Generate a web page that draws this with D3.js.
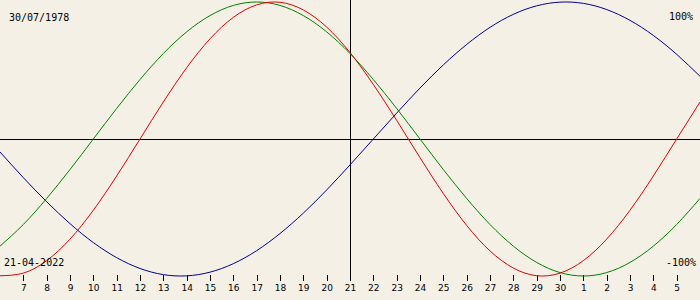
<!DOCTYPE html>
<html>
<head>
<meta charset="utf-8">
<script src="https://cdn.jsdelivr.net/npm/d3@7"></script>
<style>
  html, body { margin: 0; padding: 0; background: #f4f0e5; }
  svg { display: block; }
  text { font-family: "DejaVu Sans Mono", monospace; fill: #000; }
</style>
</head>
<body>
<svg id="chart" width="700" height="300"></svg>
<script>
// days shown, 6 April .. 6 May (first and last are off the edge ticks)
const days = [6, 7, 8, 9, 10, 11, 12, 13, 14, 15, 16, 17, 18, 19, 20, 21, 22, 23, 24, 25, 26, 27, 28, 29, 30, 1, 2, 3, 4, 5, 6];
const todayIndex = 15;

// cycle values, one per day
const physical = [-0.998, -0.979, -0.888, -0.731, -0.520, -0.270, 0, 0.270, 0.520, 0.731, 0.888, 0.979, 0.998, 0.942, 0.817, 0.631,
  0.398, 0.136, -0.136, -0.398, -0.631, -0.817, -0.942, -0.998, -0.979, -0.888, -0.731, -0.520, -0.270, 0, 0.270];
const emotional = [-0.782, -0.624, -0.434, -0.223, 0, 0.223, 0.434, 0.624, 0.782, 0.901, 0.975, 1, 0.975, 0.901, 0.782, 0.624,
  0.434, 0.223, 0, -0.223, -0.434, -0.624, -0.782, -0.901, -0.975, -1, -0.975, -0.901, -0.782, -0.624, -0.434];
const intellectual = [-0.095, -0.282, -0.458, -0.618, -0.756, -0.866, -0.945, -0.990, -0.999, -0.972, -0.910, -0.815, -0.690, -0.541, -0.372, -0.189,
  0, 0.189, 0.372, 0.541, 0.690, 0.815, 0.910, 0.972, 0.999, 0.990, 0.945, 0.866, 0.756, 0.618, 0.458];

const birthDate = "30/07/1978";
const currentDate = "21-04-2022";

const svg = d3.select("#chart");
const width = +svg.attr("width");
const height = +svg.attr("height");

const x = d3.scaleLinear().domain([0, days.length - 1]).range([0, width]);
const y = d3.scaleLinear().domain([-1, 1]).range([276, 2]);

// axes lines
const zeroY = Math.round(y(0)) + 0.5;
svg.append("line")
    .attr("x1", 0).attr("x2", width)
    .attr("y1", zeroY).attr("y2", zeroY)
    .attr("stroke", "#000");

const todayX = Math.round(x(todayIndex)) + 0.5;
svg.append("line")
    .attr("x1", todayX).attr("x2", todayX)
    .attr("y1", 0).attr("y2", 281)
    .attr("stroke", "#000");

// day ticks
const tickIdx = d3.range(1, days.length - 1).filter(i => i !== todayIndex);
svg.selectAll("line.tick")
    .data(tickIdx)
    .enter().append("line")
    .attr("class", "tick")
    .attr("x1", i => Math.round(x(i)) + 0.5)
    .attr("x2", i => Math.round(x(i)) + 0.5)
    .attr("y1", 275).attr("y2", 281)
    .attr("stroke", "#000");

svg.selectAll("text.day")
    .data(d3.range(1, days.length - 1))
    .enter().append("text")
    .attr("class", "day")
    .attr("x", i => x(i) + 0.5)
    .attr("y", 291)
    .attr("text-anchor", "middle")
    .style("font-family", "'DejaVu Sans', sans-serif")
    .style("font-size", "9px")
    .text(i => days[i]);

// curves
const line = d3.line()
    .x((d, i) => x(i))
    .y(d => y(d))
    .curve(d3.curveNatural);

const series = [
    { values: intellectual, color: "#000090" },
    { values: emotional, color: "#008000" },
    { values: physical, color: "#e00000" }
];

svg.selectAll("path.cycle")
    .data(series)
    .enter().append("path")
    .attr("class", "cycle")
    .attr("d", d => line(d.values))
    .attr("fill", "none")
    .attr("stroke", d => d.color)
    .attr("stroke-width", 1);

// labels
svg.append("text").attr("x", 9).attr("y", 21).style("font-size", "10px").text(birthDate);
svg.append("text").attr("x", 4).attr("y", 266).style("font-size", "10px").text(currentDate);
svg.append("text").attr("x", 693).attr("y", 20).attr("text-anchor", "end").style("font-size", "10px").text("100%");
svg.append("text").attr("x", 696).attr("y", 266).attr("text-anchor", "end").style("font-size", "10px").text("-100%");
</script>
</body>
</html>
